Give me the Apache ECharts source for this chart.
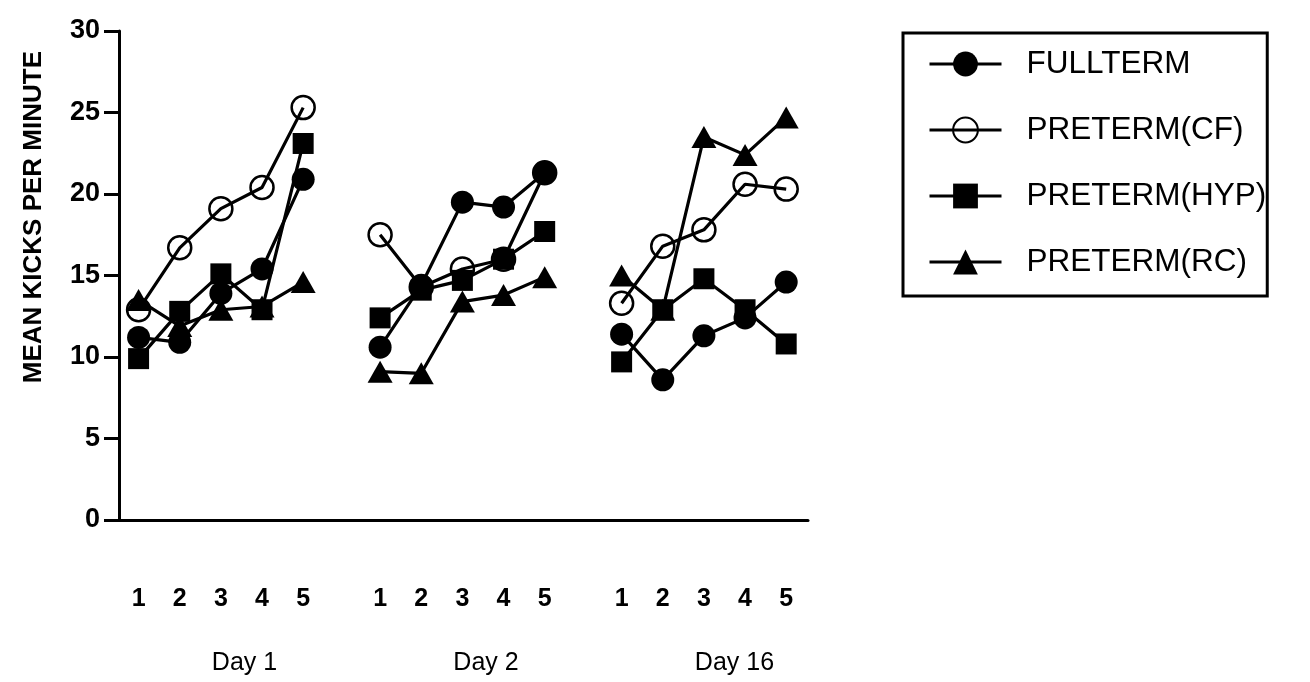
<!DOCTYPE html>
<html>
<head>
<meta charset="utf-8">
<title>Mean kicks per minute</title>
<script src="https://cdn.jsdelivr.net/npm/echarts@6/dist/echarts.min.js"></script>
<style>
  html, body { margin: 0; padding: 0; background: #fff; }
  #chart { width: 1310px; height: 682px; }
</style>
</head>
<body>
<div id="chart"></div>
<script>
// Session days and the five trial blocks recorded on each
const days = ['Day 1', 'Day 2', 'Day 16'];
const blocks = ['1', '2', '3', '4', '5'];
const yTicks = [0, 5, 10, 15, 20, 25, 30];

// Mean kicks per minute, five blocks per day, days in order
const fullterm   = [11.2, 10.9, 13.9, 15.4, 20.9,  10.6, 14.4, 19.5, 19.2, 21.3,  11.4, 8.6, 11.3, 12.4, 14.6];
const pretermCF  = [12.9, 16.7, 19.1, 20.4, 25.3,  17.5, 14.3, 15.4, 16.0, 21.3,  13.3, 16.8, 17.8, 20.6, 20.3];
const pretermHYP = [9.9, 12.8, 15.1, 12.9, 23.1,   12.4, 14.1, 14.7, 16.0, 17.7,  9.7, 12.9, 14.8, 12.9, 10.8];
const pretermRC  = [13.5, 11.9, 12.9, 13.1, 14.6,  9.1, 9.0, 13.4, 13.8, 14.9,   15.0, 12.9, 23.5, 22.4, 24.7];

// Layout of the block axis: each day occupies five units, days separated by a gap
const DAY_STEP = 5.87;
const X_MIN = 0.524, X_MAX = 17.27;
const dayStart = d => 1 + d * DAY_STEP;

const FONT = '"Liberation Sans", Arial, Helvetica, sans-serif';

// Tick positions and labels for the block numbers and day names
const blockTicks = [], blockLabelMap = {};
days.forEach((_, d) => blocks.forEach((b, i) => {
  const v = +(dayStart(d) + i).toFixed(3);
  blockTicks.push(v);
  blockLabelMap[v] = b;
}));
const dayTicks = [], dayLabelMap = {};
days.forEach((name, d) => {
  const v = +(dayStart(d) + 1.78).toFixed(3);
  dayTicks.push(v);
  dayLabelMap[v] = name;
});

const groups = [
  { name: 'PRETERM(CF)',  values: pretermCF,  symbol: 'circle',   size: 23, fill: 'transparent' },
  { name: 'FULLTERM',     values: fullterm,   symbol: 'circle',   size: 23, fill: '#000' },
  { name: 'PRETERM(RC)',  values: pretermRC,  symbol: 'triangle', size: [25, 22], fill: '#000' },
  { name: 'PRETERM(HYP)', values: pretermHYP, symbol: 'rect',     size: 21, fill: '#000' }
];

// One line per group per day so the days are not joined
const series = [];
groups.forEach(g => {
  days.forEach((_, d) => {
    const pts = blocks.map((b, i) => [dayStart(d) + i, g.values[d * blocks.length + i]]);
    series.push({
      name: g.name,
      type: 'line',
      xAxisIndex: 0,
      data: pts,
      symbol: g.symbol,
      symbolSize: g.size,
      showAllSymbol: true,
      lineStyle: { color: '#000', width: 3.2 },
      itemStyle: { color: g.fill, borderColor: '#000', borderWidth: g.fill === '#000' ? 0 : 2.5 },
      emphasis: { disabled: true },
      animation: false
    });
  });
});

const chart = echarts.init(document.getElementById('chart'), null, { renderer: 'canvas' });
chart.setOption({
  backgroundColor: '#fff',
  animation: false,
  grid: { left: 119, right: 502, top: 31, bottom: 162, containLabel: false },
  legend: {
    data: ['FULLTERM', 'PRETERM(CF)', 'PRETERM(HYP)', 'PRETERM(RC)'],
    orient: 'vertical',
    left: 903,
    top: 33,
    itemWidth: 72,
    itemHeight: 31,
    itemGap: 34,
    padding: [15, 1, 18, 25],
    borderColor: '#000',
    borderWidth: 3,
    selectedMode: false,
    lineStyle: { color: '#000', width: 3 },
    textStyle: { fontFamily: FONT, fontSize: 31.5, color: '#000', lineHeight: 31, padding: [0, 0, 0, 20] }
  },
  xAxis: [
    {
      type: 'value',
      min: X_MIN,
      max: X_MAX,
      splitLine: { show: false },
      axisLine: { lineStyle: { color: '#000', width: 3 } },
      axisTick: { show: false },
      axisLabel: {
        customValues: blockTicks,
        formatter: v => blockLabelMap[+v.toFixed(3)] || '',
        margin: 67,
        fontFamily: FONT,
        fontSize: 25,
        fontWeight: 'bold',
        color: '#000'
      }
    },
    {
      type: 'value',
      position: 'bottom',
      min: X_MIN,
      max: X_MAX,
      splitLine: { show: false },
      axisLine: { show: false },
      axisTick: { show: false },
      axisLabel: {
        customValues: dayTicks,
        formatter: v => dayLabelMap[+v.toFixed(3)] || '',
        align: 'left',
        margin: 131,
        fontFamily: FONT,
        fontSize: 25,
        color: '#000'
      }
    }
  ],
  yAxis: {
    type: 'value',
    min: 0,
    max: 30,
    interval: 5,
    splitLine: { show: false },
    axisLine: { show: true, lineStyle: { color: '#000', width: 3 } },
    axisTick: { show: true, length: 15, lineStyle: { color: '#000', width: 3 } },
    axisLabel: {
      margin: 19,
      fontFamily: FONT,
      fontSize: 27,
      fontWeight: 'bold',
      color: '#000',
      formatter: v => yTicks.includes(v) ? String(v) : ''
    }
  },
  graphic: [
    {
      type: 'text',
      left: 21,
      top: 51,
      rotation: Math.PI / 2,
      style: { text: 'MEAN KICKS PER MINUTE', font: 'bold 26px ' + FONT, fill: '#000' }
    }
  ],
  series: series
});
</script>
</body>
</html>
